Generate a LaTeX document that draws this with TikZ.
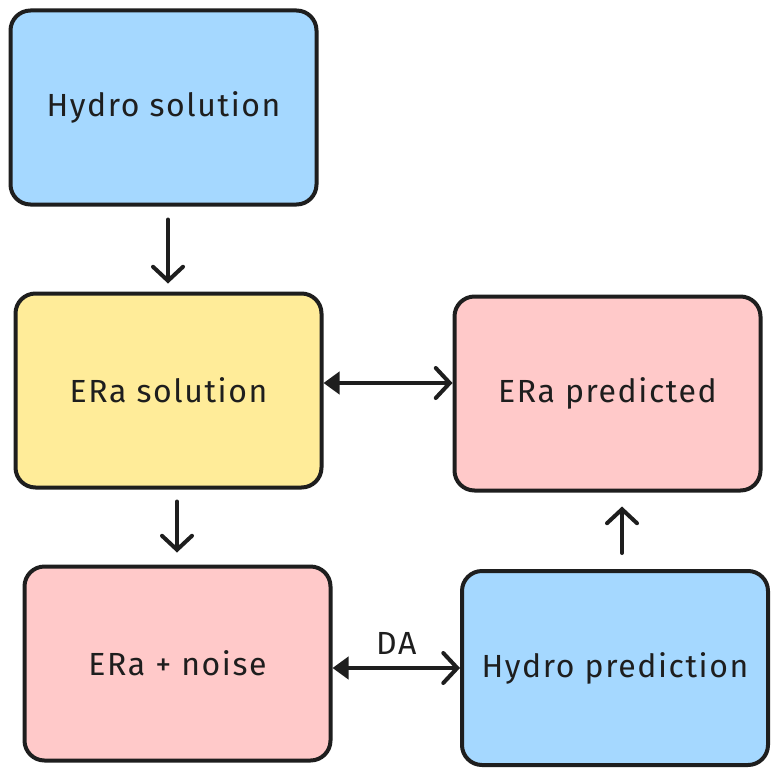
\documentclass[tikz,border=0pt]{standalone}
\usepackage{fontspec}
\setmainfont{Fira Sans}[LetterSpace=5]
\usepackage{xcolor}
\usetikzlibrary{arrows.meta,calc}
\definecolor{skyblue}{HTML}{A5D8FF}
\definecolor{sandyellow}{HTML}{FFEC99}
\definecolor{rosepink}{HTML}{FFC9C9}
\definecolor{inkblack}{HTML}{1E1E1E}
\tikzset{
  box/.style={draw=inkblack, line width=4pt, rounded corners=20pt, align=center,
              font=\fontsize{32}{36}\selectfont, text=inkblack,
              minimum width=306pt, minimum height=194pt, inner sep=0pt},
  hydro/.style={box, fill=skyblue},
  era/.style={box, fill=sandyellow},
  noisy/.style={box, fill=rosepink},
  link/.style={-{Straight Barb[length=14pt,width=30pt,line width=4pt,line cap=round]},
               draw=inkblack, line width=4pt, line cap=round},
  blink/.style={{Triangle[length=16pt,width=22pt]}-{Straight Barb[length=14pt,width=30pt,line width=4pt,line cap=round]},
                draw=inkblack, line width=4pt, line cap=round}
}
\begin{document}
\begin{tikzpicture}[x=1pt,y=-1pt]
  \useasboundingbox[fill=white] (0,0) rectangle (778,776);
  \node[hydro] (hydsol) at (163.5,107.5) {Hydro solution};
  \node[era] (erasol) at (168.5,390.5) {ERa solution};
  \node[noisy] (erapred) at (607.5,393.5) {ERa predicted};
  \node[noisy] (eranoise) at (177.5,663.5) {ERa + noise};
  \node[hydro] (hydpred) at (615,668) {Hydro prediction};

  \draw[link, shorten <=13pt, shorten >=8pt]
    ([xshift=4.5pt]hydsol.south) -- ([xshift=4.5pt]hydsol.south |- erasol.north);
  \draw[link, shorten <=12pt, shorten >=12pt]
    ([xshift=8.5pt]erasol.south) -- ([xshift=8.5pt]erasol.south |- eranoise.north);
  \draw[link, shorten <=16pt, shorten >=14pt]
    ([xshift=7pt]hydpred.north) -- ([xshift=7pt]hydpred.north |- erapred.south);
  \draw[blink] ([yshift=7.5pt]erasol.east) -- ([yshift=7.5pt]erasol.east -| erapred.west);
  \draw[blink] ($(eranoise.east)+(0,4.5)$) -- node[above=8pt, font=\fontsize{32}{36}\selectfont, text=inkblack] (dalabel) {DA}
    ($(eranoise.east -| hydpred.west)+(0,4.5)$);
\end{tikzpicture}
\end{document}
